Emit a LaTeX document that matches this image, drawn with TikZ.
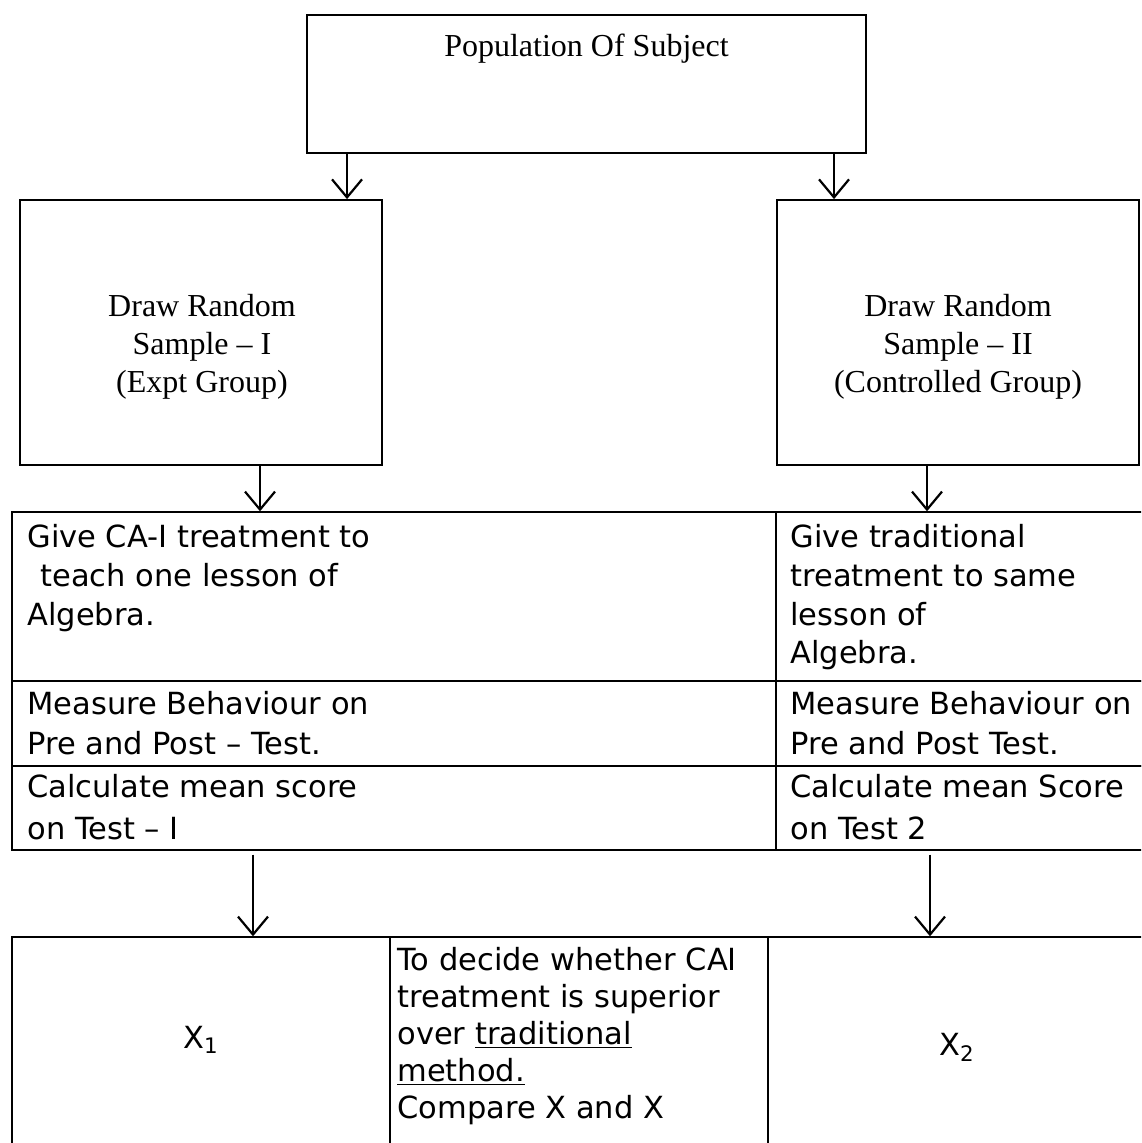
\documentclass[tikz,border=0pt]{standalone}
\usepackage{fontspec}
\newfontfamily\serifft{Liberation Serif}
\newfontfamily\tabft{DejaVu Sans}
\usetikzlibrary{arrows.meta}
\begin{document}
\begin{tikzpicture}[x=0.5pt,y=-0.5pt,
  box/.style={draw, line width=0.9pt, inner sep=0},
  cell/.style={draw, line width=0.7pt, inner sep=0},
  stxt/.style={font=\serifft\fontsize{16pt}{19pt}\selectfont, inner sep=0, anchor=base},
  ttxt/.style={font=\tabft\fontsize{15.25pt}{19pt}\selectfont, inner sep=0, anchor=base west},
  xtxt/.style={font=\tabft\fontsize{15.25pt}{19pt}\selectfont, inner sep=0},
  arr/.style={line width=1.1pt, -{Straight Barb[length=9pt,width=15pt,line width=1.1pt]}}]
\useasboundingbox (0,0) rectangle (1141,1143);
\fill[white] (0,0) rectangle (1141,1143);
\clip (0,0) rectangle (1141,1143);

% top box
\node[box, minimum width=279.5pt, minimum height=69pt] (pop) at (586.5,84) {};
\node[stxt] (poptxt) at (586.5,57) {Population Of Subject};

% sample boxes
\node[box, minimum width=181pt, minimum height=132.5pt] (s1) at (201,332.5) {};
\node[stxt] (s1a) at (202,317) {Draw Random};
\node[stxt] (s1b) at (202,355) {Sample – I};
\node[stxt] (s1c) at (202,393) {(Expt Group)};

\node[box, minimum width=181pt, minimum height=132.5pt] (s2) at (958,332.5) {};
\node[stxt] (s2a) at (958,317) {Draw Random};
\node[stxt] (s2b) at (958,355) {Sample – II};
\node[stxt] (s2c) at (958,393) {(Controlled Group)};

% table cells
\node[cell, minimum width=382pt, minimum height=84.5pt] (c11) at (394,596.5) {};
\node[cell, minimum width=185pt, minimum height=84.5pt] (c12) at (961,596.5) {};
\node[cell, minimum width=382pt, minimum height=42.5pt] (c21) at (394,723.5) {};
\node[cell, minimum width=185pt, minimum height=42.5pt] (c22) at (961,723.5) {};
\node[cell, minimum width=382pt, minimum height=42pt] (c31) at (394,808) {};
\node[cell, minimum width=185pt, minimum height=42pt] (c32) at (961,808) {};

% table texts
\node[ttxt] (t11a) at (27,547) {Give CA-I treatment to};
\node[ttxt] (t11b) at (40,586) {teach one lesson of};
\node[ttxt] (t11c) at (27,625) {Algebra.};
\node[ttxt] (t12a) at (790,547) {Give traditional};
\node[ttxt] (t12b) at (790,586) {treatment to same};
\node[ttxt] (t12c) at (790,625) {lesson of};
\node[ttxt] (t12d) at (790,663) {Algebra.};
\node[ttxt] (t21a) at (27,714) {Measure Behaviour on};
\node[ttxt] (t21b) at (27,754) {Pre and Post – Test.};
\node[ttxt] (t22a) at (790,714) {Measure Behaviour on};
\node[ttxt] (t22b) at (790,754) {Pre and Post Test.};
\node[ttxt] (t31a) at (27,797) {Calculate mean score};
\node[ttxt] (t31b) at (27,839) {on Test – I};
\node[ttxt] (t32a) at (790,797) {Calculate mean Score};
\node[ttxt] (t32b) at (790,839) {on Test 2};

% bottom row
\node[cell, minimum width=189pt, minimum height=106.5pt] (b1) at (201,1043.5) {};
\node[cell, minimum width=189pt, minimum height=106.5pt] (b2) at (579,1043.5) {};
\node[cell, minimum width=189pt, minimum height=106.5pt] (b3) at (957,1043.5) {};
\node[xtxt] (x1) at (201,1040) {X\textsubscript{1}};
\node[xtxt] (x2) at (957,1047) {X\textsubscript{2}};
\node[ttxt] (m1) at (397,970) {To decide whether CAI};
\node[ttxt] (m2) at (397,1007) {treatment is superior};
\node[ttxt] (m3) at (397,1044) {over \underline{traditional}};
\node[ttxt] (m4) at (397,1081) {\underline{method.}};
\node[ttxt] (m5) at (397,1118) {Compare X and X};

% connectors
\coordinate (p1) at (347,0);
\coordinate (p2) at (834,0);
\coordinate (p3) at (260,0);
\coordinate (p4) at (927,0);
\coordinate (p5) at (253,0);
\coordinate (p6) at (930,0);
\draw[arr] (pop.south -| p1) -- (s1.north -| p1);
\draw[arr] (pop.south -| p2) -- (s2.north -| p2);
\draw[arr] (s1.south -| p3) -- (c11.north -| p3);
\draw[arr] (s2.south -| p4) -- (c12.north -| p4);
\draw[arr] ([yshift=-2pt]c31.south -| p5) -- (b1.north -| p5);
\draw[arr] ([yshift=-2pt]c32.south -| p6) -- (b3.north -| p6);
\end{tikzpicture}
\end{document}
